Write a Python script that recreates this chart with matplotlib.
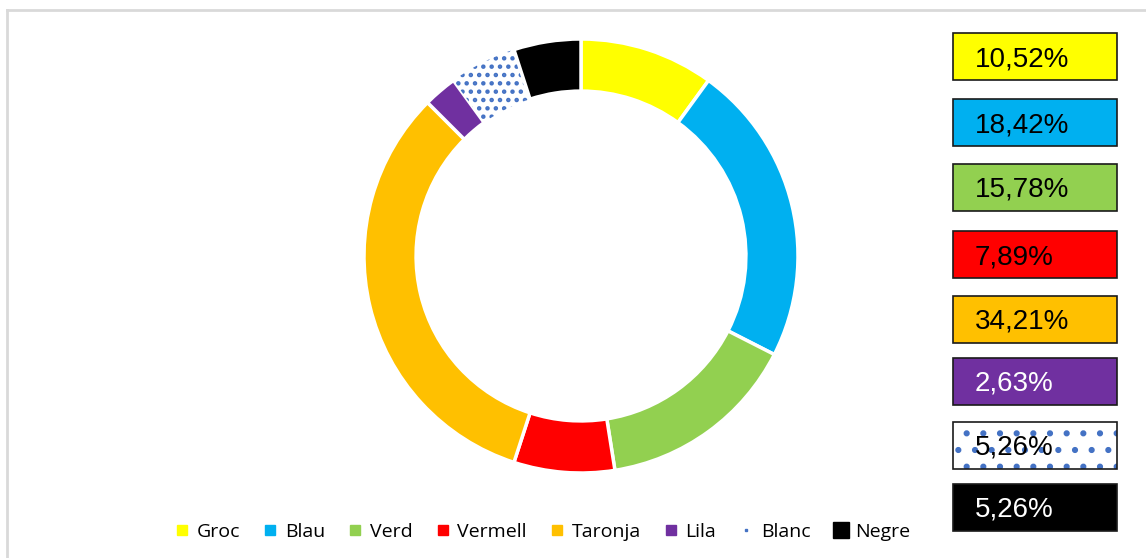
import matplotlib
matplotlib.use("Agg")
from matplotlib import pyplot as plt
from matplotlib.lines import Line2D
from matplotlib.patches import Rectangle

plt.rcParams['hatch.linewidth'] = 2.0

# data
colors_names = ["Groc", "Blau", "Verd", "Vermell", "Taronja", "Lila", "Blanc", "Negre"]
ring_values = [4, 9, 6, 3, 13, 1, 2, 2]  # sizes of the ring segments as drawn
labels = ["10,52%", "18,42%", "15,78%", "7,89%", "34,21%", "2,63%", "5,26%", "5,26%"]
fill = ["#FFFF00", "#00B0F0", "#92D050", "#FF0000", "#FFC000", "#7030A0", "#FFFFFF", "#000000"]
text_col = ["black", "black", "black", "black", "black", "white", "black", "white"]
dot_blue = "#4472C4"

W, H = 1146, 558
fig = plt.figure(figsize=(W / 100, H / 100), dpi=100)

# light gray frame (top and left only visible)
fig.add_artist(Line2D([7 / W, 7 / W], [0, 1 - 10 / H], transform=fig.transFigure, color="#D9D9D9", lw=2))
fig.add_artist(Line2D([7 / W, 1], [1 - 10 / H, 1 - 10 / H], transform=fig.transFigure, color="#D9D9D9", lw=2))

# donut
ax = fig.add_axes([364 / W, 1 - 473 / H, 434 / W, 434 / H])
wedges, _ = ax.pie(ring_values, colors=fill, startangle=90, counterclock=False,
                   radius=1, wedgeprops=dict(width=0.24, edgecolor="white", linewidth=2.5))
# white segment is dotted
blanc = wedges[6]
blanc.set_edgecolor(dot_blue)
blanc.set_linewidth(0)
blanc.set_hatch("..")
ax.set_xlim(-1, 1)
ax.set_ylim(-1, 1)
ax.set_aspect("equal")
ax.axis("off")

# percentage boxes on the right
box_tops = [33, 99, 164, 231, 296, 358, 422, 484]
for i, (lab, top) in enumerate(zip(labels, box_tops)):
    r = Rectangle((953 / W, 1 - (top + 47) / H), 164 / W, 47 / H, transform=fig.transFigure,
                  facecolor=fill[i], edgecolor="#1a1a1a", linewidth=1.2)
    if colors_names[i] == "Blanc":
        r.set_hatch(".")
        r.set_edgecolor(dot_blue)
        r.set_linewidth(0)
        fig.add_artist(r)
        r = Rectangle((953 / W, 1 - (top + 47) / H), 164 / W, 47 / H, transform=fig.transFigure,
                      facecolor="none", edgecolor="#1a1a1a", linewidth=1.2)
    fig.add_artist(r)
    fig.text(975 / W, 1 - (top + 26) / H, lab, fontsize=20, color=text_col[i],
             family="Liberation Sans", va="center", ha="left")

# legend
handles = []
for i, name in enumerate(colors_names):
    if name == "Blanc":
        h = Line2D([], [], ls="none", marker="s", markersize=2, color=dot_blue)
    elif name == "Negre":
        h = Line2D([], [], ls="none", marker="s", markersize=11, color="black")
    else:
        h = Line2D([], [], ls="none", marker="s", markersize=7.5, color=fill[i])
    handles.append(h)
fig.legend(handles, colors_names, loc="center", bbox_to_anchor=(543 / W, 1 - 532 / H),
           ncol=8, frameon=False, handlelength=0.7, handletextpad=0.4, columnspacing=1.2,
           prop={"family": "Open Sans", "size": 14})

fig.savefig("out.png", dpi=100)
